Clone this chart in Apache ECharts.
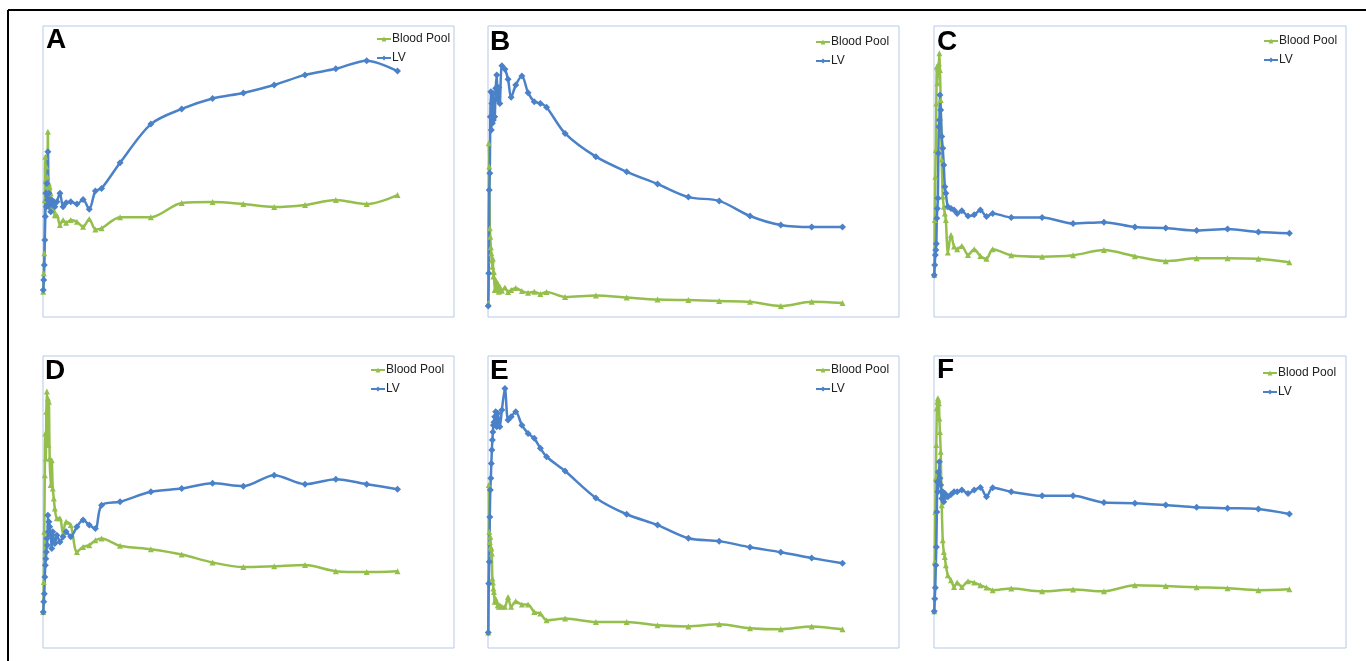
<!DOCTYPE html>
<html>
<head>
<meta charset="utf-8">
<script src="https://cdn.jsdelivr.net/npm/echarts@6/dist/echarts.min.js"></script>
<style>
html,body{margin:0;padding:0;background:#ffffff;}
#chart{width:1366px;height:661px;}
</style>
</head>
<body>
<div id="chart"></div>
<script>
// Frame mid-times (seconds)
const frameTimes = [2.5, 7.5, 12.5, 17.5, 22.5, 27.5, 32.5, 37.5, 42.5, 47.5, 52.5, 57.5,
  65, 75, 85, 95, 105, 115,
  135, 165, 195, 225,
  270, 330, 390, 450, 510, 570,
  750, 1050, 1350, 1650, 1950, 2250, 2550, 2850, 3150, 3450];

const seriesNames = ['Blood Pool', 'LV'];
const panelLabels = ['A', 'B', 'C', 'D', 'E', 'F'];

// Panel A
const bloodPoolA = [8.7, 15.0, 21.9, 40.2, 55.1, 47.1, 51.7, 44.8, 48.2, 63.7, 43.6, 45.9,
  44.8, 42.5, 37.9, 39.6, 36.7, 35.0,
  35.0, 31.6, 33.3, 32.4,
  33.3, 32.7, 31.0, 33.7, 30.1, 30.5,
  34.3, 34.3, 39.2, 39.5, 38.8, 37.8, 38.5, 40.2, 38.8, 41.9];
const lvA = [9.3, 12.7, 17.9, 26.5, 34.5, 42.5, 37.9, 45.9, 40.2, 56.8, 38.0, 42.5,
  39.6, 36.2, 40.2, 38.5, 39.6, 37.9,
  39.6, 42.5, 37.9, 39.3,
  39.6, 38.8, 40.4, 37.0, 43.3, 44.2,
  53.0, 66.3, 71.5, 75.1, 77.0, 79.7, 83.2, 85.3, 88.1, 84.5];

// Panel B
const bloodPoolB = [4.7, 59.7, 51.7, 30.5, 27.6, 24.0, 21.9, 19.5, 17.3, 20.0, 13.9, 15.5,
  9.3, 12.7, 9.5, 11.6, 8.7, 10.4,
  9.0, 10.1, 8.6, 9.3,
  10.0, 8.9, 8.3, 8.7, 7.9, 8.6,
  6.9, 7.4, 6.7, 6.0, 5.8, 5.5, 5.2, 3.8, 5.2, 4.8];
const lvB = [3.8, 15.0, 43.6, 49.4, 68.8, 77.4, 64.3, 73.4, 66.6, 76.9, 67.7, 74.6,
  68.8, 78.6, 83.2, 74.6, 78.9, 73.4,
  86.3, 85.1, 81.7, 75.5,
  79.7, 82.8, 77.1, 74.0, 73.4, 72.1,
  63.1, 55.1, 49.9, 45.7, 41.2, 39.9, 34.7, 31.6, 30.9, 30.9];

// Panel C
const bloodPoolC = [14.4, 33.3, 48.2, 57.4, 73.4, 86.0, 80.3, 85.4, 83.2, 87.2, 90.6, 84.9,
  74.6, 54.0, 41.4, 37.9, 35.6, 33.3,
  22.2, 28.2, 24.2, 23.3,
  24.4, 21.3, 23.3, 21.0, 20.0, 23.3,
  21.2, 20.7, 21.2, 23.0, 20.9, 19.2, 20.2, 20.2, 20.0, 18.8];
const lvC = [14.4, 17.9, 21.3, 23.0, 25.2, 33.9, 37.3, 40.8, 56.3, 65.4, 67.7, 76.3,
  71.1, 62.0, 58.0, 52.2, 44.8, 42.5,
  37.9, 37.3, 36.8, 35.6,
  36.5, 34.7, 35.1, 36.8, 34.5, 35.6,
  34.2, 34.2, 32.1, 32.6, 30.9, 30.6, 29.7, 30.2, 29.2, 28.8];

// Panel D
const bloodPoolD = [12.3, 22.6, 39.8, 59.2, 73.5, 64.9, 80.9, 87.8, 71.8, 85.5, 69.5, 84.3,
  64.9, 55.8, 64.3, 54.6, 51.2, 47.8,
  44.4, 44.4, 39.2, 43.2,
  42.1, 32.9, 34.6, 35.2, 36.9, 37.5,
  35.0, 33.8, 32.0, 29.3, 27.7, 28.0, 28.4, 26.3, 26.0, 26.3];
const lvD = [12.3, 15.8, 18.6, 24.3, 28.3, 30.6, 32.9, 37.5, 35.2, 45.5, 39.8, 43.2,
  41.5, 38.6, 34.1, 39.8, 36.9, 35.8,
  38.6, 36.3, 38.1, 39.8,
  38.1, 41.5, 43.8, 42.1, 40.9, 48.9,
  50.1, 53.5, 54.6, 56.4, 55.4, 59.2, 56.1, 57.8, 56.1, 54.4];

// Panel E
const bloodPoolE = [5.3, 55.8, 39.8, 36.3, 38.1, 34.6, 34.1, 32.4, 23.8, 22.4, 20.4, 19.2,
  15.8, 16.9, 15.8, 14.6, 14.1, 14.6,
  14.1, 14.1, 17.5, 14.1,
  16.0, 14.9, 14.9, 12.3, 11.8, 9.5,
  10.1, 8.9, 8.9, 7.8, 7.4, 8.1, 6.8, 6.4, 7.4, 6.4];
const lvE = [5.3, 22.1, 29.5, 44.9, 54.1, 58.1, 63.2, 67.8, 71.2, 74.0, 76.3, 77.3,
  79.2, 80.9, 75.8, 80.4, 78.1, 75.8,
  81.5, 88.9, 78.1, 79.2,
  80.9, 76.3, 73.5, 71.8, 68.4, 65.5,
  60.6, 51.4, 45.8, 42.1, 37.6, 36.6, 34.5, 32.8, 30.8, 29.0];

// Panel F
const bloodPoolF = [12.6, 29.5, 46.6, 58.1, 69.5, 82.1, 84.3, 85.5, 84.9, 83.8, 78.6, 74.0,
  67.2, 48.9, 36.9, 32.9, 31.2, 28.3,
  24.9, 23.2, 20.9, 22.4,
  20.9, 22.9, 22.4, 21.5, 20.7, 19.8,
  20.4, 19.4, 20.0, 19.4, 21.5, 21.2, 20.8, 20.5, 19.8, 20.1];
const lvF = [12.6, 16.9, 20.6, 28.3, 34.6, 46.6, 56.9, 53.5, 60.3, 56.9, 63.8, 58.1,
  55.8, 51.2, 53.5, 50.1, 52.9, 51.8,
  51.8, 52.6, 53.5, 53.5,
  54.1, 52.9, 54.1, 55.0, 51.8, 54.9,
  53.5, 52.1, 52.1, 49.8, 49.6, 49.0, 48.2, 47.9, 47.6, 45.9];

const panelBloodPool = [bloodPoolA, bloodPoolB, bloodPoolC, bloodPoolD, bloodPoolE, bloodPoolF];
const panelLv = [lvA, lvB, lvC, lvD, lvE, lvF];

// ---- layout / style ----
const GREEN = '#94bf4c';
const BLUE = '#4a81c8';
const gridBoxes = [
  {left: 43, top: 26, width: 411, height: 291},
  {left: 488, top: 26, width: 411, height: 291},
  {left: 934, top: 26, width: 412, height: 291},
  {left: 43, top: 356, width: 411, height: 292},
  {left: 488, top: 356, width: 411, height: 292},
  {left: 934, top: 356, width: 412, height: 292}
];
const legendBoxes = [
  {left: 376, top: 33}, {left: 815, top: 36}, {left: 1263, top: 35},
  {left: 370, top: 364}, {left: 815, top: 364}, {left: 1262, top: 367}
];
const labelBoxes = [
  {left: 46, top: 26}, {left: 490, top: 28}, {left: 937, top: 28},
  {left: 45, top: 357}, {left: 490, top: 357}, {left: 937, top: 356}
];

const grid = [], xAxis = [], yAxis = [], series = [], legend = [], graphic = [];
gridBoxes.forEach((g, i) => {
  grid.push(Object.assign({show: true, borderColor: '#b5c9e7', borderWidth: 1, backgroundColor: '#ffffff'}, g));
  xAxis.push({type: 'value', gridIndex: i, min: 0, max: 4000, show: false});
  yAxis.push({type: 'value', gridIndex: i, min: 0, max: 100, show: false});
  const bp = panelBloodPool[i], lv = panelLv[i];
  series.push({
    name: seriesNames[0], type: 'line', xAxisIndex: i, yAxisIndex: i,
    data: frameTimes.map((t, k) => [t, bp[k]]),
    symbol: 'triangle', symbolSize: 6, smooth: 0.3,
    lineStyle: {color: GREEN, width: 2.5}, itemStyle: {color: GREEN}
  });
  series.push({
    name: seriesNames[1], type: 'line', xAxisIndex: i, yAxisIndex: i,
    data: frameTimes.map((t, k) => [t, lv[k]]),
    symbol: 'diamond', symbolSize: 7, smooth: 0.3,
    lineStyle: {color: BLUE, width: 2.5}, itemStyle: {color: BLUE}
  });
  legend.push({
    data: seriesNames, orient: 'vertical', left: legendBoxes[i].left, top: legendBoxes[i].top,
    padding: 0, itemGap: 7, itemWidth: 14, itemHeight: 6, selectedMode: false,
    textStyle: {fontFamily: 'Liberation Sans', fontSize: 12, color: '#222', padding: [0, 0, 0, -4]}
  });
  graphic.push({
    type: 'text', left: labelBoxes[i].left, top: labelBoxes[i].top,
    style: {text: panelLabels[i], font: 'bold 28px "Liberation Sans"', fill: '#000'}
  });
});
// outer frame lines (top and left)
graphic.push({type: 'line', shape: {x1: 8, y1: 10, x2: 1366, y2: 10}, style: {stroke: '#000', lineWidth: 2}});
graphic.push({type: 'line', shape: {x1: 8, y1: 10, x2: 8, y2: 661}, style: {stroke: '#000', lineWidth: 2}});

const chart = echarts.init(document.getElementById('chart'));
chart.setOption({
  animation: false,
  backgroundColor: '#ffffff',
  grid, xAxis, yAxis, series, legend, graphic
});
</script>
</body>
</html>
